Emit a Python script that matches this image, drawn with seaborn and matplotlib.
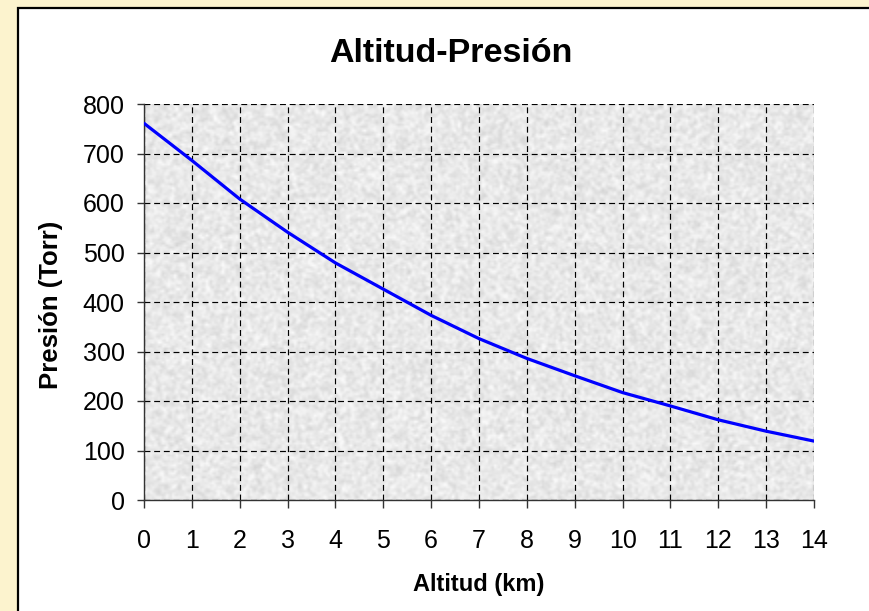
import numpy as np
import pandas as pd
import matplotlib
matplotlib.use("Agg")
import matplotlib.pyplot as plt
import seaborn as sns
from matplotlib.patches import Rectangle

# ---- data ----
altitud_km = [0, 1, 2, 3, 4, 5, 6, 7, 8, 9, 10, 11, 12, 13, 14]
presion_torr = [761, 686, 608, 541, 479, 426, 373, 326, 286, 251, 217, 190, 162, 139, 119]
x_ticks = list(range(0, 15))
y_ticks = list(range(0, 801, 100))
title = "Altitud-Presión"
x_label = "Altitud (km)"
y_label = "Presión (Torr)"

sns.set_style("white")
plt.rcParams["font.family"] = ["Liberation Sans", "DejaVu Sans"]
plt.rcParams["text.color"] = "black"
plt.rcParams["xtick.color"] = "black"
plt.rcParams["ytick.color"] = "black"

W, H = 870, 611
fig = plt.figure(figsize=(W / 100, H / 100), dpi=100)
fig.patch.set_facecolor("#FCF3CE")

# white chart frame
frame = Rectangle((18 / W, -0.01), 1.05, 1.01 - 8 / H, transform=fig.transFigure,
                  facecolor="white", edgecolor="black", linewidth=1.6, zorder=-10)
fig.patches.append(frame)

left, right, top, bottom = 144 / W, 814 / W, 104 / H, 500 / H
ax = fig.add_axes([left, 1 - bottom, right - left, bottom - top])
ax.set_zorder(1)
ax.set_facecolor("#E6E6E6")

# granite-like background texture (decorative only)
rng = np.random.default_rng(3)
nr, nc = 200, 335
noise = rng.random((nr, nc))
pad = np.pad(noise, 1, mode="edge")
sm = sum(pad[i:i + nr, j:j + nc] for i in range(2) for j in range(2)) / 4.0
tex = 0.83 + 0.16 * (sm - sm.min()) / (sm.max() - sm.min())
ax.imshow(tex, cmap="gray", vmin=0, vmax=1, extent=[0, 14, 0, 800],
          aspect="auto", zorder=0, interpolation="bilinear")

df = pd.DataFrame({"Altitud": altitud_km, "Presion": presion_torr})
sns.lineplot(data=df, x="Altitud", y="Presion", ax=ax, color="#0000FF",
             linewidth=2.3, zorder=3)

ax.set_xlim(0, 14)
ax.set_ylim(0, 800)
ax.set_xticks(x_ticks)
ax.set_yticks(y_ticks)
ax.set_xticklabels([str(v) for v in x_ticks])
ax.set_yticklabels([str(v) for v in y_ticks])

ax.set_axisbelow(True)
ax.grid(True, color="black", linestyle=(0, (5, 3.2)), linewidth=0.85)

for s in ["top", "right"]:
    ax.spines[s].set_visible(False)
for s in ["left", "bottom"]:
    ax.spines[s].set_color("#333333")
    ax.spines[s].set_linewidth(1.0)

ax.tick_params(axis="x", direction="out", length=6, width=1, color="#333333",
               pad=15, labelsize=18, labelcolor="black")
ax.tick_params(axis="y", direction="out", length=5, width=1, color="#333333",
               pad=9, labelsize=18, labelcolor="black")
ax.tick_params(bottom=True, left=True)

ax.set_xlabel("")
ax.set_ylabel("")
fig.text(479 / W, 1 - 585 / H, x_label, ha="center", va="center",
         fontsize=17, fontweight="bold", color="black")
fig.text(51 / W, 1 - 305 / H, y_label, ha="center", va="center",
         rotation=90, fontsize=18.5, fontweight="bold", color="black")
fig.text(451 / W, 1 - 54 / H, title, ha="center", va="center",
         fontsize=24.5, fontweight="bold", color="black")

fig.savefig("out.png", dpi=100, facecolor=fig.get_facecolor())
